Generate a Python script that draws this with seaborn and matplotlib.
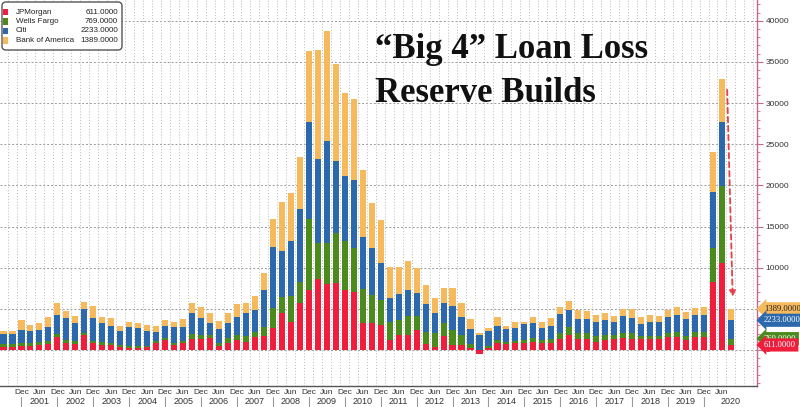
import numpy as np
import pandas as pd
import matplotlib
matplotlib.use("Agg")
import matplotlib.pyplot as plt
import seaborn as sns
from matplotlib.lines import Line2D
from matplotlib.patches import FancyBboxPatch, Rectangle
from matplotlib.transforms import blended_transform_factory

sns.set_style("white")
plt.rcParams['font.family'] = ['Liberation Sans', 'DejaVu Sans']

# quarterly loan loss reserve builds, Jun 2000 .. Sep 2020 ($m)
quarters = pd.period_range("2000Q2", "2020Q3", freq="Q")
labels = [str(q) for q in quarters]

jpm = [400, 330, 490, 490, 610, 730, 1550, 810, 730, 1790,
       810, 650, 570, 330, 240, 200, 330, 900, 1220, 610,
       810, 1300, 1300, 1420, 530, 810, 1220, 1010, 1620, 1700,
       2630, 4450, 3440, 5670, 7290, 8590, 8020, 8100, 7290, 7090,
       3320, 3320, 3040, 1220, 1820, 1820, 2430, 730, 320, 1700,
       610, 610, 200, -450, 200, 810, 730, 810, 810, 970,
       890, 810, 1300, 1820, 1380, 1300, 1010, 1220, 1300, 1420,
       1300, 1300, 1300, 1300, 1540, 1620, 1220, 1620, 1620, 8300,
       10530, 611]
wells = [300, 370, 410, 320, 370, 410, 400, 410, 330, 330,
         330, 330, 330, 240, 250, 290, 200, 240, 250, 290,
         290, 610, 490, 400, 280, 610, 600, 690, 610, 1050,
         2430, 2030, 3120, 2630, 8590, 4450, 5020, 6080, 5990, 5260,
         4050, 3360, 3040, 2220, 1830, 2310, 1700, 1500, 1710, 1620,
         1820, 1210, 530, 0, 290, 410, 280, 320, 410, 450,
         330, 490, 730, 1020, 650, 730, 710, 600, 520, 690,
         730, 400, 400, 400, 570, 610, 480, 610, 610, 4050,
         9400, 769]
citi = [1200, 1300, 1540, 1470, 1460, 1670, 2320, 2610, 2280, 2850,
        2730, 2240, 2070, 1710, 2280, 2160, 1750, 1100, 1460, 1950,
        1750, 2570, 2040, 1420, 1700, 1820, 2230, 2750, 2630, 4540,
        7500, 5590, 6720, 8790, 11860, 10130, 12390, 8820, 7860, 8310,
        6400, 5670, 4530, 2920, 3150, 3160, 2760, 3320, 2430, 2430,
        2920, 2230, 1780, 1820, 1820, 1700, 1500, 1500, 1940, 1900,
        1490, 1620, 2340, 2020, 1780, 1740, 1720, 1830, 1620, 2020,
        1900, 1460, 1740, 1740, 1860, 2020, 2030, 2020, 2020, 6890,
        7810, 2233]
bofa = [460, 320, 1260, 810, 820, 1260, 1430, 890, 850, 810,
        1420, 850, 860, 650, 650, 610, 730, 690, 730, 610,
        940, 1220, 1380, 1300, 1010, 1210, 1540, 1220, 1700, 2020,
        3320, 5950, 5840, 6400, 8630, 13280, 13330, 11750, 10130, 9800,
        8100, 5470, 5190, 3680, 3240, 3560, 3030, 2350, 1820, 1820,
        2220, 1700, 1260, 210, 400, 1050, 410, 730, 280, 730,
        730, 930, 900, 1090, 1050, 970, 810, 810, 730, 850,
        1010, 890, 810, 730, 890, 1020, 850, 810, 930, 4860,
        5190, 1389]

names = ["JPMorgan", "Wells Fargo", "Citi", "Bank of America"]
colors = ["#ee1e3c", "#4b8a1c", "#2c68ac", "#f6b95c"]
y_ticks = list(range(0, 40001, 5000))

W, H = 800, 407
fig = plt.figure(figsize=(W / 100, H / 100), dpi=100)
ax = fig.add_axes([0, 1 - 386 / H, 757 / W, 386 / H])

jp, wf, ci, ba = (np.array(a, dtype=float) for a in (jpm, wells, citi, bofa))
pos = lambda a: np.clip(a, 0, None)
layers = [
    (pos(jp) + pos(wf) + pos(ci) + pos(ba), colors[3]),
    (pos(jp) + pos(wf) + pos(ci), colors[2]),
    (pos(jp) + pos(wf), colors[1]),
    (pos(jp), colors[0]),
    (np.clip(jp, None, 0), colors[0]),
]
for vals, col in layers:
    sns.barplot(x=labels, y=vals, order=labels, color=col, saturation=1,
                width=0.68, errorbar=None, linewidth=0, ax=ax, zorder=3)

xmax = 83.9
ax.set_xlim(-0.39, xmax)
ax.set_ylim(-4374, 42525)
ax.set_xlabel("")
ax.set_ylabel("")

# grid
for v in y_ticks:
    ax.axhline(v, color="#9a9a9a", lw=0.7, ls=(0, (2, 2)), zorder=1)
ax.vlines(np.arange(-0.5, 84, 1), -4374, 42525, colors="#b8b8b8",
          lw=0.7, linestyles=(0, (1, 2)), zorder=1)

for s in ["left", "top"]:
    ax.spines[s].set_visible(False)
ax.spines["right"].set_color("#c9668a")
ax.spines["right"].set_linewidth(1)
ax.spines["bottom"].set_color("#555555")
ax.spines["bottom"].set_linewidth(1)

# right value axis
ax.yaxis.tick_right()
ax.set_yticks(y_ticks)
ax.set_yticklabels([str(v) for v in y_ticks])
ax.set_yticks(np.arange(-4000, 42001, 1000), minor=True)
ax.tick_params(axis="y", which="major", length=4, color="#c9668a",
               labelsize=6, labelcolor="#333333", pad=2)
ax.tick_params(axis="y", which="minor", length=2, color="#c9668a")

# month / year axis
month_idx = [i for i, q in enumerate(quarters) if q.quarter in (2, 4) and i > 0]
month_lbl = ["Jun" if quarters[i].quarter == 2 else "Dec" for i in month_idx]
ax.set_xticks(month_idx)
ax.set_xticklabels(month_lbl)
ax.tick_params(axis="x", length=2, color="#555555", labelsize=6,
               labelcolor="#333333", pad=0.5)

dec_idx = [i for i, q in enumerate(quarters) if q.quarter == 4]
sep_tr = blended_transform_factory(ax.transData, fig.transFigure)
for i in dec_idx:
    fig.add_artist(Line2D([i, i], [1 - 397 / H, 0], transform=sep_tr,
                          color="#999999", lw=0.8))
for k, i in enumerate(dec_idx):
    right = dec_idx[k + 1] if k + 1 < len(dec_idx) else xmax
    yr = quarters[i].year + 1
    ax.annotate(str(yr), xy=((i + right) / 2, 0),
                xycoords=("data", "axes fraction"),
                xytext=(0, -(402 - 386) * 0.72), textcoords="offset points",
                ha="center", va="center", fontsize=6.5, color="#333333",
                annotation_clip=False)

# red dashed arrow
ax.annotate("", xy=(81.2, 6100), xytext=(80.57, 31950),
            arrowprops=dict(arrowstyle="-|>", color="#e8404a", lw=1.3,
                            ls=(0, (3, 2)), mutation_scale=9), zorder=6)

# value tags on the right axis (they sit over the 0 / 5000 labels, as in the original)
tag_tr = blended_transform_factory(ax.transAxes, ax.transData)
cum = np.cumsum([jp[-1], wf[-1], ci[-1], ba[-1]])
series_last = [jp[-1], wf[-1], ci[-1], ba[-1]]
text_cols = ["white", "white", "white", "#222222"]
for k in [3, 2, 1, 0]:
    ax.text(1.009, cum[k], f"{series_last[k]:.4f}", transform=tag_tr,
            va="center", ha="left", fontsize=6.2, family="Liberation Serif",
            color=text_cols[k], clip_on=False, zorder=10,
            bbox=dict(boxstyle="larrow,pad=0.3", fc=colors[k], ec="none"))

# legend box
inch = fig.dpi_scale_trans
def px(x, y):
    return (x / 100, (H - y) / 100)
fig.add_artist(FancyBboxPatch(px(2, 50), 1.2, 0.48,
                              boxstyle="round,pad=0,rounding_size=0.04",
                              transform=inch, fc="white", ec="#555555", lw=1,
                              zorder=20))
for k, yc in enumerate([12, 21.5, 31, 40.5]):
    fig.add_artist(Rectangle(px(3, yc + 3), 0.05, 0.06, transform=inch,
                             fc=colors[k], ec="none", zorder=21))
    fig.text(*px(16, yc), names[k], transform=inch, va="center", ha="left",
             fontsize=5.8, color="#222222", zorder=22)
    fig.text(*px(118, yc), f"{series_last[k]:.4f}", transform=inch,
             va="center", ha="right", fontsize=5.8, color="#222222", zorder=22)

# title
for txt, base in [("\u201cBig 4\u201d Loan Loss", 58), ("Reserve Builds", 101.7)]:
    fig.text(375 / W, 1 - base / H, txt, fontsize=25, fontweight="bold",
             family="Liberation Serif", va="baseline", ha="left", color="#111111")

fig.savefig("out.png", dpi=100)
